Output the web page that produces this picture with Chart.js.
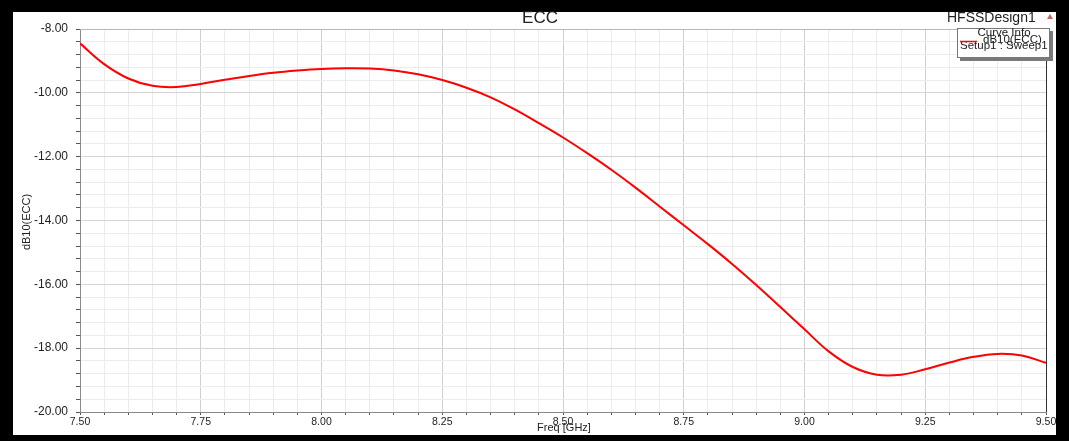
<!DOCTYPE html>
<html>
<head>
<meta charset="utf-8">
<script src="https://cdn.jsdelivr.net/npm/chart.js@4.4.0/dist/chart.umd.min.js"></script>
<style>
html,body{margin:0;padding:0;background:#000;}
canvas{display:block;}
</style>
</head>
<body>
<canvas id="c" width="1069" height="441"></canvas>
<script>
// ---- data ----
const chartTitle = "ECC";
const designName = "HFSSDesign1";
const seriesName = "dB10(ECC)";
const sweepName = "Setup1 : Sweep1";
const xAxisTitle = "Freq [GHz]";
const yAxisTitle = "dB10(ECC)";
const freqs = [7.50,7.55,7.60,7.65,7.70,7.75,7.80,7.85,7.90,7.95,
               8.00,8.05,8.10,8.15,8.20,8.25,8.30,8.35,8.40,8.45,
               8.50,8.55,8.60,8.65,8.70,8.75,8.80,8.85,8.90,8.95,
               9.00,9.05,9.10,9.15,9.20,9.25,9.30,9.35,9.40,9.45,9.50];
const ecc = [-8.45,-9.10,-9.55,-9.78,-9.82,-9.72,-9.59,-9.47,-9.37,-9.30,
             -9.25,-9.23,-9.24,-9.30,-9.42,-9.60,-9.84,-10.14,-10.52,-10.95,
             -11.40,-11.89,-12.41,-12.97,-13.56,-14.15,-14.74,-15.36,-16.02,-16.71,
             -17.41,-18.10,-18.59,-18.83,-18.83,-18.66,-18.45,-18.27,-18.18,-18.23,-18.46];
const xMin = 7.5, xMax = 9.5, xStep = 0.05, xLabelStep = 0.25;
const yMin = -20, yMax = -8, yStep = 0.4, yLabelStep = 2;

const FONT = "'Liberation Sans', Arial, sans-serif";
function isMult(v, s){ const r = v / s; return Math.abs(r - Math.round(r)) < 1e-6; }

const decor = {
  id: 'decor',
  beforeDraw(chart){
    const ctx = chart.ctx;
    ctx.save();
    ctx.fillStyle = '#000';
    ctx.fillRect(0,0,chart.width,chart.height);
    ctx.fillStyle = '#fff';
    ctx.fillRect(13,12,1056-13,435-12);
    ctx.restore();
  },
  afterDraw(chart){
    const ctx = chart.ctx;
    const a = chart.chartArea;
    ctx.save();
    ctx.strokeStyle = '#b8b8b8'; ctx.lineWidth = 1;
    ctx.beginPath(); ctx.moveTo(a.left, a.top + 0.5); ctx.lineTo(a.right, a.top + 0.5); ctx.stroke();
    ctx.strokeStyle = '#333';
    ctx.beginPath(); ctx.moveTo(a.right + 0.5, a.top); ctx.lineTo(a.right + 0.5, a.bottom); ctx.stroke();
    ctx.fillStyle = '#222';
    ctx.font = '17px ' + FONT;
    ctx.textAlign = 'center'; ctx.textBaseline = 'middle';
    ctx.fillText(chartTitle, 540, 18);
    ctx.font = '14px ' + FONT;
    ctx.textAlign = 'left';
    ctx.fillText(designName, 947, 18);
    ctx.fillStyle = '#c86464';
    ctx.beginPath(); ctx.moveTo(1050, 14); ctx.lineTo(1053, 19); ctx.lineTo(1047, 19); ctx.closePath(); ctx.fill();
    ctx.fillStyle = '#7a7a7a';
    ctx.fillRect(960, 31, 93, 30);
    ctx.fillStyle = '#fff';
    ctx.fillRect(957, 28, 93, 30);
    ctx.strokeStyle = '#777';
    ctx.strokeRect(957.5, 28.5, 92, 29);
    ctx.fillStyle = '#222';
    ctx.font = '11.5px ' + FONT;
    ctx.textAlign = 'center';
    ctx.fillText('Curve Info', 1004, 33);
    ctx.textAlign = 'left';
    ctx.fillText(seriesName, 983, 40);
    ctx.fillText(sweepName, 960, 46);
    ctx.strokeStyle = '#ff0000'; ctx.lineWidth = 1.5;
    ctx.beginPath(); ctx.moveTo(960, 41.5); ctx.lineTo(977, 41.5); ctx.stroke();
    ctx.fillStyle = '#222';
    ctx.font = '11px ' + FONT;
    ctx.textAlign = 'center';
    ctx.fillText(xAxisTitle, 564, 428);
    ctx.translate(27, 222);
    ctx.rotate(-Math.PI/2);
    ctx.fillText(yAxisTitle, 0, 0);
    ctx.restore();
  }
};

new Chart(document.getElementById('c'), {
  type: 'line',
  data: {
    datasets: [{
      data: freqs.map((f,i) => ({x: f, y: ecc[i]})),
      borderColor: '#ff0000',
      borderWidth: 2,
      pointRadius: 0,
      tension: 0.4,
      fill: false
    }]
  },
  options: {
    responsive: false,
    animation: false,
    devicePixelRatio: 1,
    layout: { padding: { left: 0, top: 29, right: 23, bottom: 0 } },
    plugins: { legend: { display: false }, title: { display: false }, tooltip: { enabled: false } },
    scales: {
      x: {
        type: 'linear', min: xMin, max: xMax,
        afterFit(s){ s.height = 29; },
        afterBuildTicks(s){
          const t = [];
          const n = Math.round((xMax - xMin) / xStep);
          for (let i = 0; i <= n; i++) t.push({value: +(xMin + i * xStep).toFixed(4)});
          s.ticks = t;
        },
        ticks: {
          autoSkip: false, maxRotation: 0, padding: 1,
          font: { family: FONT, size: 10.5 }, color: '#222',
          callback: v => isMult(v, xLabelStep) ? v.toFixed(2) : ''
        },
        grid: {
          color: c => isMult(c.tick.value, xLabelStep) ? '#cfcfcf' : '#ececec',
          tickColor: '#555', tickLength: 3, lineWidth: 1
        },
        border: { color: '#8a8a8a', width: 1 }
      },
      y: {
        type: 'linear', min: yMin, max: yMax,
        afterFit(s){ s.width = 80; },
        afterBuildTicks(s){
          const t = [];
          const n = Math.round((yMax - yMin) / yStep);
          for (let i = 0; i <= n; i++) t.push({value: +(yMin + i * yStep).toFixed(4)});
          s.ticks = t;
        },
        ticks: {
          autoSkip: false, padding: 8,
          font: { family: FONT, size: 12 }, color: '#222',
          callback: v => isMult(v, yLabelStep) ? v.toFixed(2) : ''
        },
        grid: {
          color: c => isMult(c.tick.value, yLabelStep) ? '#d4d4d4' : '#ececec',
          tickColor: '#555', tickLength: 4, lineWidth: 1
        },
        border: { color: '#8a8a8a', width: 1 }
      }
    }
  },
  plugins: [decor]
});
</script>
</body>
</html>
